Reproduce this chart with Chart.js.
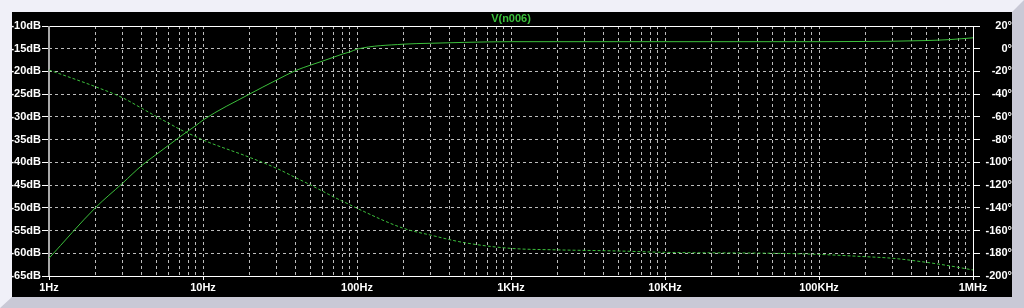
<!DOCTYPE html>
<html>
<head>
<meta charset="utf-8">
<script src="https://cdn.jsdelivr.net/npm/chart.js@4/dist/chart.umd.min.js"></script>
<style>
  html, body { margin: 0; padding: 0; }
  body { width: 1024px; height: 308px; background: #f0f0f8; position: relative; overflow: hidden; }
  #shade { position: absolute; left: 0; top: 0; width: 1024px; height: 308px; background: #c9c9d6;
    clip-path: polygon(0px 308px, 12px 297px, 1012px 297px, 1012px 12px, 1024px 0px, 1024px 308px); }
  #wrap { position: absolute; left: 12px; top: 12px; width: 1000px; height: 285px; background: #000; }
</style>
</head>
<body>
<div id="shade"></div>
<div id="wrap"><canvas id="bode" width="1000" height="285"></canvas></div>
<script>
// frequency points (Hz)
const freqs = [1, 2, 3, 4, 5, 6, 7, 8, 9, 10, 20, 30, 40, 50, 60, 70, 80, 90, 100, 200, 300, 500,
  1000, 2000, 5000, 10000, 50000, 100000, 200000, 300000, 500000, 700000, 1000000];
// magnitude in dB (solid, left axis)
const magDb = [-61.1, -50.0, -44.6, -40.7, -38.2, -36.2, -34.5, -33.1, -31.9, -30.7, -25.0, -21.9, -19.8, -18.6,
  -17.7, -16.9, -16.2, -15.7, -15.1, -14.0, -13.8, -13.6, -13.45, -13.45, -13.45, -13.45, -13.45, -13.45,
  -13.4, -13.35, -13.2, -13.0, -12.6];
// phase in degrees (dashed, right axis)
const phaseDeg = [-18.7, -33.4, -43.1, -52.4, -59.8, -65.6, -70.6, -74.4, -77.4, -80.3, -95.5, -105.2, -113.5, -119.9,
  -125.5, -130.2, -134.0, -137.3, -140.4, -158.0, -164.0, -170.7, -175.7, -177.0, -178.0, -179.2, -180.0, -181.0,
  -183.0, -184.4, -188.0, -191.0, -194.7];
const xTickLabels = ['1Hz', '10Hz', '100Hz', '1KHz', '10KHz', '100KHz', '1MHz'];
const traceName = 'V(n006)';

const green = '#3cc03c';
const gridGray = '#bcbcbc';
const labelFont = { family: 'Liberation Sans', size: 11, weight: 'bold' };

const framePlugin = {
  id: 'frame',
  beforeDatasetsDraw(chart) {
    const { ctx, chartArea: a } = chart;
    ctx.save();
    ctx.lineWidth = 1;
    ctx.strokeStyle = '#ffffff';
    ctx.beginPath();
    ctx.moveTo(a.left, a.top + 0.5);
    ctx.lineTo(a.right + 0.5, a.top + 0.5);
    ctx.lineTo(a.right + 0.5, a.bottom + 0.5);
    ctx.lineTo(a.left, a.bottom + 0.5);
    ctx.stroke();
    ctx.strokeStyle = '#a8a8a8';
    ctx.lineWidth = 2;
    ctx.beginPath();
    ctx.moveTo(a.left, a.top);
    ctx.lineTo(a.left, a.bottom);
    ctx.stroke();
    ctx.restore();
  },
  afterDraw(chart) {
    const { ctx, chartArea: a } = chart;
    ctx.save();
    ctx.fillStyle = green;
    ctx.font = 'bold 11px "Liberation Sans"';
    ctx.textAlign = 'center';
    ctx.textBaseline = 'middle';
    ctx.fillText(traceName, (a.left + a.right) / 2, 7);
    ctx.restore();
  }
};

const decades = [1, 10, 100, 1000, 10000, 100000, 1000000];

new Chart(document.getElementById('bode'), {
  type: 'line',
  data: {
    datasets: [
      {
        label: 'mag',
        data: freqs.map((f, i) => ({ x: f, y: magDb[i] })),
        yAxisID: 'y',
        borderColor: green,
        borderWidth: 1,
        pointRadius: 0,
        cubicInterpolationMode: 'monotone'
      },
      {
        label: 'phase',
        data: freqs.map((f, i) => ({ x: f, y: phaseDeg[i] })),
        yAxisID: 'y1',
        borderColor: green,
        borderWidth: 1,
        borderDash: [3, 2],
        pointRadius: 0,
        cubicInterpolationMode: 'monotone'
      }
    ]
  },
  options: {
    responsive: false,
    animation: false,
    layout: { padding: { top: 14, left: 0, right: 0, bottom: 0 } },
    plugins: { legend: { display: false }, tooltip: { enabled: false } },
    scales: {
      x: {
        type: 'logarithmic',
        min: 1,
        max: 1000000,
        afterBuildTicks(scale) {
          const t = [];
          for (let d = 1; d < 1000000; d *= 10) {
            for (let m = 1; m < 10; m++) t.push({ value: d * m });
          }
          t.push({ value: 1000000 });
          scale.ticks = t;
        },
        afterFit(scale) { scale.height = 21; },
        ticks: {
          autoSkip: false,
          maxRotation: 0,
          color: '#ffffff',
          font: labelFont,
          padding: 1,
          callback(v) {
            const k = decades.indexOf(v);
            return k >= 0 ? xTickLabels[k] : '';
          }
        },
        grid: {
          color: gridGray,
          tickLength: 4,
          tickColor: ctx => decades.includes(ctx.tick && ctx.tick.value) ? '#ffffff' : 'rgba(0,0,0,0)'
        },
        border: { display: false, dash: [3, 3] }
      },
      y: {
        position: 'left',
        min: -65,
        max: -10,
        afterFit(scale) { scale.width = 37; },
        ticks: {
          stepSize: 5,
          color: '#ffffff',
          font: labelFont,
          padding: 1,
          callback: v => v + 'dB'
        },
        grid: { color: gridGray, tickLength: 7, tickColor: '#ffffff' },
        border: { display: false, dash: [3, 3] }
      },
      y1: {
        position: 'right',
        min: -200,
        max: 20,
        afterFit(scale) { scale.width = 39; },
        ticks: {
          stepSize: 20,
          color: '#ffffff',
          font: labelFont,
          padding: 1,
          crossAlign: 'far',
          callback: v => v + '°'
        },
        grid: { drawOnChartArea: false, tickLength: 7, tickColor: '#ffffff' },
        border: { display: false }
      }
    }
  },
  plugins: [framePlugin]
});
</script>
</body>
</html>
